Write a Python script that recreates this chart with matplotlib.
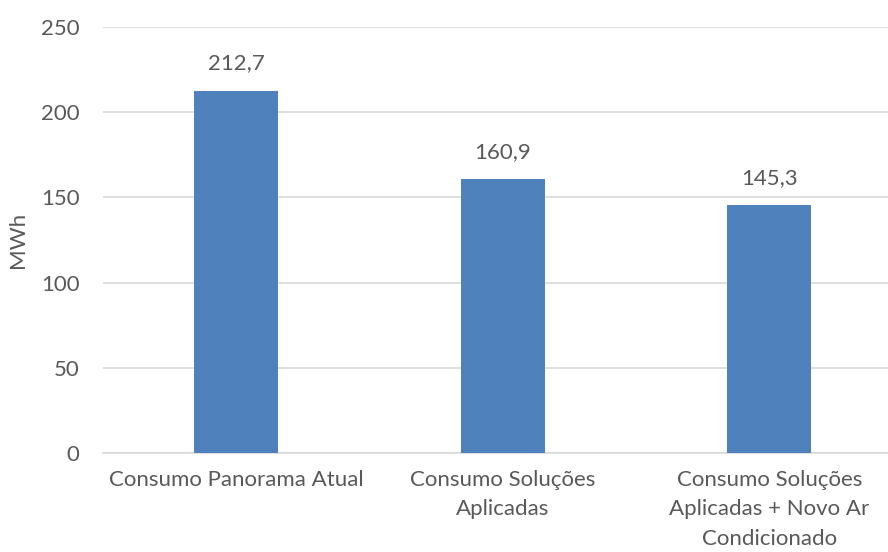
import matplotlib.pyplot as plt

categories = ['Consumo Panorama Atual', 'Consumo Soluções\nAplicadas',
              'Consumo Soluções\nAplicadas + Novo Ar\nCondicionado']
values = [212.7, 160.9, 145.3]
labels = ['212,7', '160,9', '145,3']

plt.rcParams['font.family'] = ['Lato', 'DejaVu Sans']
txt = '#595959'
fs = 16

fig = plt.figure(figsize=(8.88, 5.52), dpi=100)
ax = fig.add_axes([103 / 888, 99 / 552, 785 / 888, 426 / 552])

x = list(range(len(categories)))
bars = ax.bar(x, values, width=0.315, color='#4F81BD', zorder=3)
for b, lab in zip(bars, labels):
    ax.text(b.get_x() + b.get_width() / 2, b.get_height() + 10, lab,
            ha='center', va='bottom', fontsize=fs, color=txt)

ax.set_xlim(-0.5, 2.445)
ax.set_ylim(0, 250)
ax.set_yticks(range(0, 251, 50))
ax.set_xticks(x)
ax.set_xticklabels(categories, fontsize=fs, color=txt, linespacing=1.6)
ax.tick_params(axis='y', labelsize=fs, labelcolor=txt, length=0, pad=17)
ax.tick_params(axis='x', length=0, pad=12)
ax.grid(axis='y', color='#D9D9D9', linewidth=1.2, zorder=0)
for s in ['top', 'right', 'left']:
    ax.spines[s].set_visible(False)
ax.spines['bottom'].set_color('#D9D9D9')
ax.spines['bottom'].set_linewidth(1.2)
ax.set_ylabel('MWh', fontsize=fs, color=txt)
ax.yaxis.set_label_coords(-0.0955, 0.5)

fig.savefig('out.png', dpi=100)
